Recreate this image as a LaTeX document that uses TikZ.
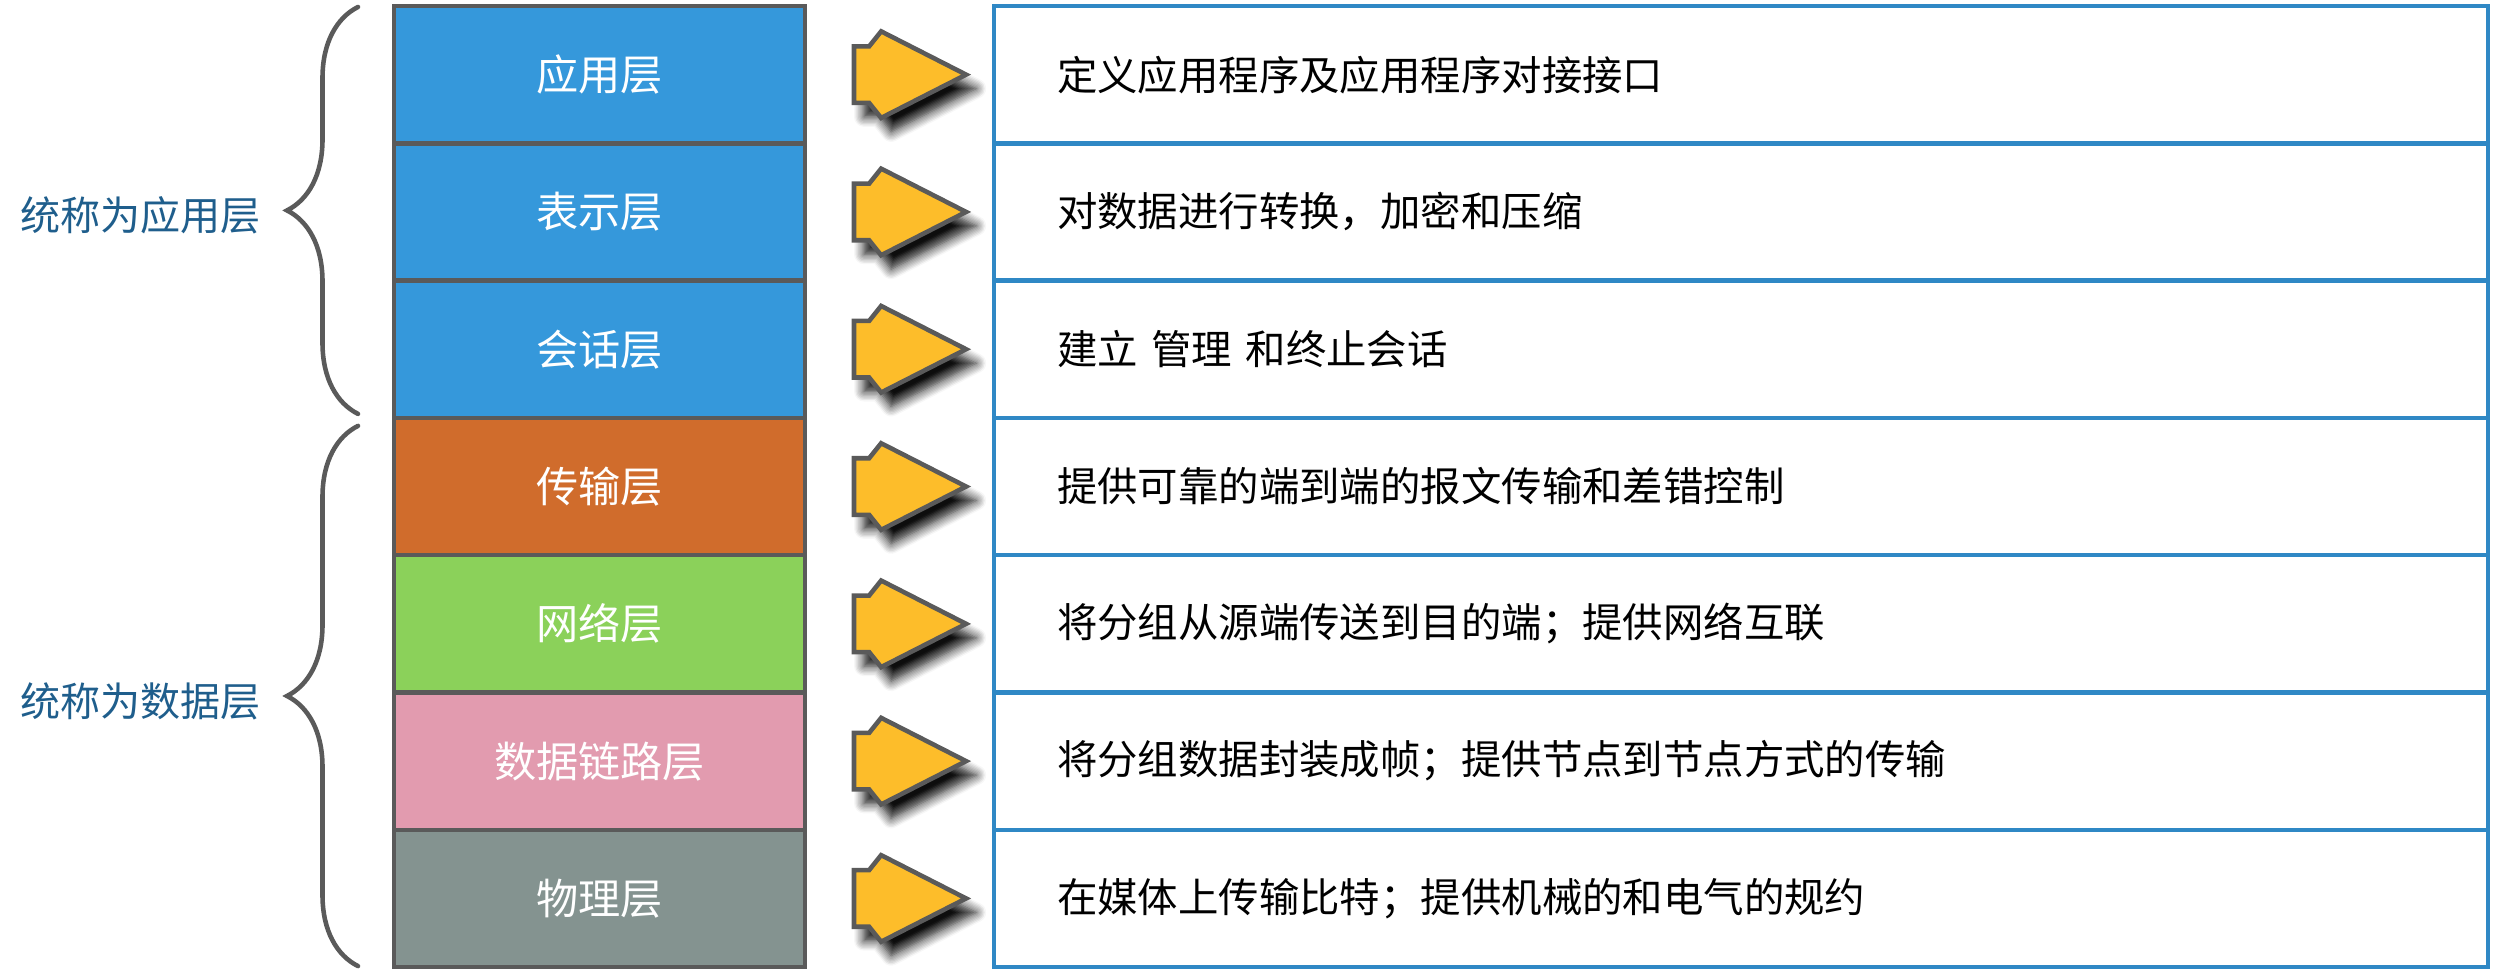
\documentclass[tikz,border=0pt]{standalone}
\usepackage{fontspec}
\setmainfont{Noto Sans CJK SC}
\usetikzlibrary{positioning,calc,shapes.arrows,shadows.blur,decorations.pathreplacing}

\definecolor{appblue}{HTML}{3598DB}
\definecolor{transorange}{HTML}{D06C2C}
\definecolor{netgreen}{HTML}{8BD15A}
\definecolor{linkpink}{HTML}{E29BAF}
\definecolor{physgray}{HTML}{849390}
\definecolor{edgegray}{HTML}{5A5A5A}
\definecolor{descblue}{HTML}{2F88C5}
\definecolor{arrowgold}{HTML}{FDBD2A}
\definecolor{groupblue}{HTML}{1F5E8C}

\begin{document}
\begin{tikzpicture}[
    line width=1.3pt,
    layer/.style={draw=edgegray, outer sep=0pt, minimum width=4.11cm, minimum height=1.373cm,
      text=white, font=\fontsize{12pt}{14pt}\selectfont},
    desc/.style={draw=descblue, outer sep=0pt, minimum width=14.94cm, minimum height=1.373cm,
      inner xsep=0.63cm, text width=13.68cm, align=left, font=\fontsize{11.5pt}{14pt}\selectfont},
    pointer/.style={single arrow, draw=edgegray, fill=arrowgold, inner sep=0.26cm, outer sep=0pt,
      minimum height=1.12cm, single arrow head extend=0.15cm, single arrow tip angle=54,
      single arrow head indent=-0.12cm,
      blur shadow={shadow xshift=0.1cm, shadow yshift=-0.14cm, shadow opacity=95,
        shadow blur radius=0.1cm, shadow blur steps=8}},
    brace/.style={draw=edgegray, line cap=round, decorate, decoration={brace, amplitude=0.71cm}},
    group/.style={text=groupblue, font=\fontsize{11.4pt}{14pt}\selectfont}
]
\useasboundingbox (0,0) rectangle (24.93,9.73);

% seven layers
\node[layer, fill=appblue, anchor=north west] (app) at (3.94,9.67) {应用层};
\node[layer, fill=appblue, below=0pt of app] (pres) {表示层};
\node[layer, fill=appblue, below=0pt of pres] (sess) {会话层};
\node[layer, fill=transorange, below=0pt of sess] (trans) {传输层};
\node[layer, fill=netgreen, below=0pt of trans] (net) {网络层};
\node[layer, fill=linkpink, below=0pt of net] (link) {数据链路层};
\node[layer, fill=physgray, below=0pt of link] (phys) {物理层};

% what each layer does
\node[desc, right=1.89cm of app] (app-desc) {定义应用程序及应用程序对接接口};
\node[desc, right=1.89cm of pres] (pres-desc) {对数据进行转换，加密和压缩};
\node[desc, right=1.89cm of sess] (sess-desc) {建立 管理 和终止会话};
\node[desc, right=1.89cm of trans] (trans-desc) {提供可靠的端到端的报文传输和差错控制};
\node[desc, right=1.89cm of net] (net-desc) {将分组从源端传送到目的端；提供网络互联};
\node[desc, right=1.89cm of link] (link-desc) {将分组数据封装成帧；提供节点到节点方式的传输};
\node[desc, right=1.89cm of phys] (phys-desc) {在媒体上传输比特；提供机械的和电气的规约};

% arrows between them
\node[pointer, right=0.49cm of app] (app-ptr) {};
\node[pointer, right=0.49cm of pres] (pres-ptr) {};
\node[pointer, right=0.49cm of sess] (sess-ptr) {};
\node[pointer, right=0.49cm of trans] (trans-ptr) {};
\node[pointer, right=0.49cm of net] (net-ptr) {};
\node[pointer, right=0.49cm of link] (link-ptr) {};
\node[pointer, right=0.49cm of phys] (phys-ptr) {};

% braces and group names
\coordinate (upper-top) at ($(app.north west)+(-0.36,-0.01)$);
\coordinate (upper-bot) at ($(sess.south west)+(-0.36,0.04)$);
\coordinate (lower-top) at ($(trans.north west)+(-0.36,-0.08)$);
\coordinate (lower-bot) at ($(phys.south west)+(-0.36,0.01)$);
\draw[brace] (upper-bot) -- (upper-top);
\draw[brace] (lower-bot) -- (lower-top);
\node[group, anchor=east] (app-group) at ($(upper-top)!0.5!(upper-bot)+(-0.83,-0.05)$) {统称为应用层};
\node[group, anchor=east] (data-group) at ($(lower-top)!0.5!(lower-bot)+(-0.83,-0.05)$) {统称为数据层};
\end{tikzpicture}
\end{document}
